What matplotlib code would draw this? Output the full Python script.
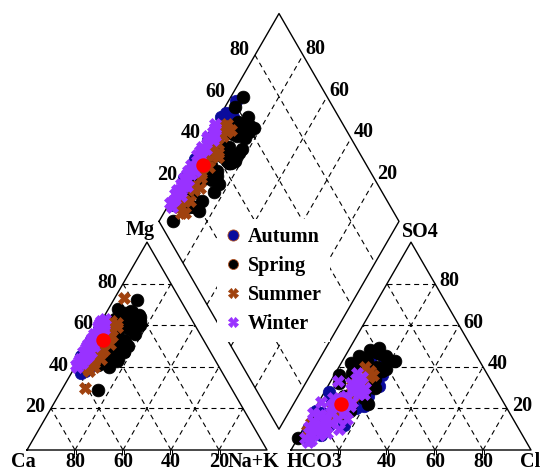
import numpy as np
import matplotlib
matplotlib.use('Agg')
import matplotlib.pyplot as plt
from matplotlib.lines import Line2D

# ---------------- data (percent of meq) ----------------
seasons = ['Autumn', 'Spring', 'Summer', 'Winter']

autumn_mg  = [38, 40, 42, 44, 46, 48, 50, 52, 54, 56, 58, 60, 62, 45, 50, 55, 53, 47, 57, 43,
              39, 41, 49, 51, 59, 61, 46, 37, 48, 54]
autumn_na  = [5, 3, 1, 4, 2, 5, 1, 3, 2, 4, 1, 3, 2, 0, 4, 5, 0, 2, 6, 3,
              6, 4, 3, 6, 5, 4, 6, 4, 1, 2]
autumn_so4 = [8, 12, 15, 20, 25, 30, 35, 40, 42, 45, 22, 18, 10, 28, 33, 38, 14, 6, 44, 24,
              36, 26, 44, 31, 21, 40, 12, 7, 19, 24]
autumn_cl  = [6, 10, 14, 17, 16, 18, 16, 14, 12, 10, 18, 4, 2, 2, 19, 17, 7, 4, 11, 5,
              20, 19, 17, 21, 20, 13, 16, 9, 1, 19]

spring_mg  = [72, 29, 68, 66, 64, 62, 60, 58, 56, 54, 52, 50, 48, 46, 44, 42, 40, 45, 55, 63, 57, 51, 47, 61, 53,
              65, 59, 49, 43, 67, 41,
              44, 47, 50, 53, 56, 59, 62, 65, 48, 52, 58, 64, 42, 60]
spring_na  = [10, 15, 4, 8, 12, 16, 6, 14, 17, 10, 15, 12, 16, 9, 13, 11, 14, 7, 6, 5, 9, 8, 17, 13, 5,
              14, 11, 13, 16, 10, 9,
              16, 12, 17, 14, 9, 16, 10, 12, 6, 11, 7, 15, 9, 17]
spring_so4 = [44, 22, 47, 45, 43, 40, 36, 35, 30, 28, 25, 22, 20, 18, 15, 12, 10, 16, 6, 43, 38, 26, 33, 48, 32,
              46, 41, 24, 19, 42, 14,
              27, 21, 34, 29, 23, 39, 37, 45, 13, 30, 17, 49, 11, 44]
spring_cl  = [8, 21, 12, 6, 10, 16, 2, 8, 20, 15, 18, 14, 10, 12, 8, 6, 9, 5, 0, 22, 19, 9, 13, 9, 4,
              14, 6, 11, 15, 4, 3,
              17, 11, 18, 16, 10, 20, 7, 17, 7, 12, 8, 12, 5, 18]

summer_mg  = [73, 30, 62, 60, 58, 56, 54, 52, 50, 48, 46, 44, 42, 40, 39, 45, 55, 57, 49, 43,
              41, 47, 51, 53, 59, 61, 38, 44, 50, 56]
summer_na  = [4, 9, 4, 5, 3, 6, 4, 7, 5, 8, 6, 9, 7, 8, 6, 4, 8, 6, 3, 5,
              5, 7, 9, 6, 8, 7, 7, 6, 4, 5]
summer_so4 = [36, 10, 30, 38, 34, 28, 32, 26, 22, 24, 18, 16, 14, 12, 10, 13, 36, 40, 20, 8,
              15, 19, 27, 33, 31, 35, 9, 11, 25, 29]
summer_cl  = [14, 3, 13, 14, 12, 15, 11, 13, 12, 10, 11, 9, 8, 6, 3, 2, 16, 11, 7, 4,
              7, 9, 13, 14, 10, 15, 2, 5, 9, 12]

winter_mg  = [41, 42, 43, 44, 46, 47, 48, 49, 50, 51, 52, 53, 54, 55, 56, 57, 58, 59, 60, 61, 62, 63, 45, 50,
              54, 58, 40, 47, 42, 44, 46, 48, 52, 55, 57, 59, 61, 43, 49, 53,
              44, 51, 56, 49, 60, 46]
winter_na  = [0, 1, 0, 2, 1, 0, 2, 1, 0, 2, 1, 0, 2, 1, 0, 2, 1, 0, 2, 1, 0, 1, 3, 3,
              0, 3, 1, 3, 2, 0, 3, 1, 2, 3, 1, 2, 0, 1, 0, 2,
              1, 0, 2, 1, 0, 2]
winter_so4 = [6, 8, 10, 12, 9, 14, 16, 18, 13, 20, 22, 24, 19, 26, 28, 23, 30, 32, 27, 34, 21, 37, 7, 17,
              11, 25, 5, 29, 4, 9, 15, 21, 12, 31, 17, 8, 25, 14, 35, 10,
              18, 23, 27, 30, 33, 15]
winter_cl  = [3, 4, 5, 4, 6, 7, 6, 8, 10, 9, 11, 8, 13, 10, 12, 14, 11, 9, 15, 10, 6, 9, 8, 3,
              2, 5, 6, 13, 5, 9, 12, 14, 8, 13, 4, 11, 9, 2, 12, 15,
              0, 1, 17, 16, 3, 16]

mean_mg, mean_na, mean_so4, mean_cl = [53], [5], [22], [10]

# ---------------- styles ----------------
colors = {'Autumn': '#0b0b9c', 'Spring': '#000000', 'Summer': '#a0420f', 'Winter': '#9932ff'}
markers = {'Autumn': 'o', 'Spring': 'o', 'Summer': 'X', 'Winter': 'X'}
sizes = {'Autumn': 9.0, 'Spring': 9.2, 'Summer': 8.2, 'Winter': 8.4}
data = {
    'Autumn': (autumn_mg, autumn_na, autumn_so4, autumn_cl),
    'Spring': (spring_mg, spring_na, spring_so4, spring_cl),
    'Summer': (summer_mg, summer_na, summer_so4, summer_cl),
    'Winter': (winter_mg, winter_na, winter_so4, winter_cl),
}

H = np.sqrt(3) / 2
OFF = 1.1  # anion triangle offset


def cation_xy(mg, na):
    mg = np.asarray(mg) / 100.0
    na = np.asarray(na) / 100.0
    return na + 0.5 * mg, mg * H


def anion_xy(so4, cl):
    so4 = np.asarray(so4) / 100.0
    cl = np.asarray(cl) / 100.0
    return OFF + cl + 0.5 * so4, so4 * H


def diamond_xy(na, so4, cl):
    n = np.asarray(na) / 100.0
    s = (np.asarray(so4) + np.asarray(cl)) / 100.0
    return (n + OFF + s) / 2.0, H * (OFF + s - n)


def px(x, y):
    return (x - 27) / 240.0, (450 - y) / 240.0


fig = plt.figure(figsize=(5.42, 4.74), dpi=100)
ax = fig.add_axes([0, 0, 1, 1])
ax.set_xlim(-27 / 240.0, 515 / 240.0)
ax.set_ylim(-24 / 240.0, 450 / 240.0)
ax.axis('off')

olw = 1.0
dash = dict(color='black', lw=0.8, ls=(0, (4.5, 3.5)), zorder=1)

# left triangle
ax.plot([0, 1, 0.5, 0], [0, 0, H, 0], color='black', lw=olw, zorder=2)
# right triangle
ax.plot([OFF, OFF + 1, OFF + 0.5, OFF], [0, 0, H, 0], color='black', lw=olw, zorder=2)
# diamond vertices from transform
v_left = diamond_xy([0], [0], [0])
v_bot = diamond_xy([100], [0], [0])
v_top = diamond_xy([0], [100], [0])
v_right = diamond_xy([100], [100], [0])
ax.plot([v_left[0][0], v_top[0][0], v_right[0][0], v_bot[0][0], v_left[0][0]],
        [v_left[1][0], v_top[1][0], v_right[1][0], v_bot[1][0], v_left[1][0]],
        color='black', lw=olw, zorder=2)

grid = [0.2, 0.4, 0.6, 0.8]
for g in grid:
    # left triangle
    ax.plot([0.5 * g, 1 - 0.5 * g], [g * H, g * H], **dash)
    ax.plot([g, 0.5 + 0.5 * g], [0, (1 - g) * H], **dash)
    ax.plot([g, 0.5 * g], [0, g * H], **dash)
    # right triangle
    ax.plot([OFF + 0.5 * g, OFF + 1 - 0.5 * g], [g * H, g * H], **dash)
    ax.plot([OFF + g, OFF + 0.5 + 0.5 * g], [0, (1 - g) * H], **dash)
    ax.plot([OFF + g, OFF + 0.5 * g], [0, g * H], **dash)
    # diamond
    a = diamond_xy([g * 100, g * 100], [0, 100], [0, 0])
    ax.plot(a[0], a[1], **dash)
    b = diamond_xy([0, 100], [g * 100, g * 100], [0, 0])
    ax.plot(b[0], b[1], **dash)
    # base ticks
    for x0 in (g, OFF + g):
        for d in (-0.005, 0.005):
            ax.plot([x0 + d, x0 + d], [0, -0.017], color='black', lw=0.7, zorder=2)

# ---------------- points ----------------
handles = []
for s in seasons:
    mg, na, so4, cl = data[s]
    cx, cy = cation_xy(mg, na)
    axx, ayy = anion_xy(so4, cl)
    dxx, dyy = diamond_xy(na, so4, cl)
    X = np.concatenate([cx, axx, dxx])
    Y = np.concatenate([cy, ayy, dyy])
    ax.plot(X, Y, ls='none', marker=markers[s], ms=sizes[s], color=colors[s],
            mec=colors[s], mew=0.5, zorder=3)
    handles.append(Line2D([], [], ls='none', marker=markers[s],
                          ms=(8.0 if s == 'Autumn' else 7.2) if markers[s] == 'o' else 6.8,
                          color=colors[s], mec='#b05020' if markers[s] == 'o' else colors[s], mew=0.6,
                          label=s))

cx, cy = cation_xy(mean_mg, mean_na)
axx, ayy = anion_xy(mean_so4, mean_cl)
dxx, dyy = diamond_xy(mean_na, mean_so4, mean_cl)
ax.plot(np.concatenate([cx, axx, dxx]), np.concatenate([cy, ayy, dyy]), ls='none', marker='o',
        ms=9.4, color='#ff0000', mec='#ff0000', zorder=4)

# ---------------- text ----------------
FS = 14.5
tf = dict(family='Liberation Serif', weight='bold', size=FS, color='black')

ax.text(*px(23, 462), 'Ca', ha='center', va='center', **tf)
ax.text(*px(253, 462), 'Na+K', ha='center', va='center', **tf)
ax.text(*px(315, 462), 'HCO3', ha='center', va='center', **tf)
ax.text(*px(530, 462), 'Cl', ha='center', va='center', **tf)
ax.text(*px(140, 230), 'Mg', ha='center', va='center', **tf)
ax.text(*px(420, 232), 'SO4', ha='center', va='center', **tf)

ca_labels = ['80', '60', '40', '20']
for g, lab in zip(grid, ca_labels):
    ax.text(g, -0.05, lab, ha='center', va='center', **tf)
cl_labels = ['40', '60', '80']
for g, lab in zip(grid[1:], cl_labels):
    ax.text(OFF + g, -0.05, lab, ha='center', va='center', **tf)

mg_labels = ['20', '40', '60', '80']
for g, lab in zip(grid, mg_labels):
    ax.text(0.5 * g - 0.025, g * H + 0.005, lab, ha='right', va='center', **tf)
so4_labels = ['20', '40', '60', '80']
for g, lab in zip(grid, so4_labels):
    ax.text(OFF + 1 - 0.5 * g + 0.02, g * H + 0.01, lab, ha='left', va='center', **tf)

dl_labels = ['20', '40', '60', '80']
for g, lab in zip(grid, dl_labels):
    x0, y0 = diamond_xy([0], [g * 100], [0])
    ax.text(x0[0] - 0.025, y0[0] + 0.02, lab, ha='right', va='center', **tf)
dr_labels = ['80', '60', '40', '20']
for g, lab in zip(grid, dr_labels):
    x0, y0 = diamond_xy([g * 100], [100], [0])
    ax.text(x0[0] + 0.01, y0[0] + 0.025, lab, ha='left', va='center', **tf)

leg = ax.legend(handles=handles, loc='upper left', bbox_to_anchor=(217 / 542, 1 - 219 / 474),
                frameon=True, facecolor='white', edgecolor='none', framealpha=1.0, fancybox=False,
                handlelength=0.8, handletextpad=0.35, labelspacing=0.45,
                borderpad=0.4, borderaxespad=0,
                prop={'family': 'Liberation Serif', 'weight': 'bold', 'size': FS})
leg.set_zorder(5)

fig.savefig('out.png', dpi=100)
